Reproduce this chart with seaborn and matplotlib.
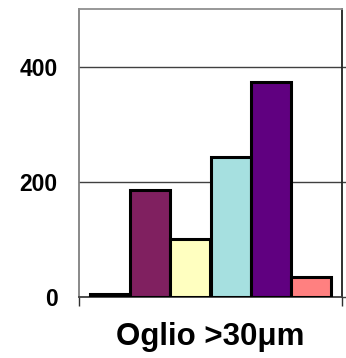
import matplotlib
matplotlib.use("Agg")
import matplotlib.pyplot as plt
import seaborn as sns
import pandas as pd

categories = ["Oglio >30μm"]
series = ["S1", "S2", "S3", "S4", "S5", "S6"]
values = [6, 186, 100, 243, 374, 34]
colors = ["#8080F0", "#802060", "#FFFFC0", "#A6E0E0", "#600080", "#FF8080"]
yticks = [0, 200, 400]

df = pd.DataFrame({"cat": categories * len(series), "series": series, "value": values})

sns.set_theme(style="white")
plt.rcParams["font.family"] = ["Liberation Sans", "DejaVu Sans"]
plt.rcParams["text.color"] = "black"
plt.rcParams["ytick.labelcolor"] = "black"

W, H = 346, 358
fig = plt.figure(figsize=(W / 100, H / 100), dpi=100)
ax = fig.add_axes([79 / W, 1 - 297 / H, (342 - 79) / W, (297 - 9) / H])

sns.barplot(data=df, x="cat", y="value", hue="series", hue_order=series,
            palette=colors, saturation=1, width=0.92, edgecolor="black",
            linewidth=2.2, ax=ax, legend=False, zorder=3)

ax.set_ylim(0, 500)
ax.set_xlim(-0.5, 0.5)
ax.set_yticks(yticks)
ax.set_yticklabels([str(v) for v in yticks], fontsize=16.5, fontweight="bold", color="black")
ax.set_xticks([-0.5, 0.5])
ax.set_xticklabels([])
ax.set_xlabel("")
ax.set_ylabel("")
ax.yaxis.grid(True, color="#404040", lw=1)
ax.xaxis.grid(False)
ax.set_axisbelow(True)

ax.tick_params(axis="y", which="both", left=False, right=True, length=3,
               color="#404040", width=1, pad=12.5, direction="out")
ax.tick_params(axis="y", labelleft=True, labelright=False)
ax.tick_params(axis="x", bottom=True, length=6.5, color="#303030", width=1, direction="out")

for side, c in [("left", "#808080"), ("top", "#909090"), ("right", "#202020"), ("bottom", "#404040")]:
    ax.spines[side].set_visible(True)
    ax.spines[side].set_color(c)
    ax.spines[side].set_linewidth(1.3)

fig.text(210 / W, 1 - 345 / H, "Oglio >30μm", ha="center", va="baseline",
         fontsize=22.5, fontweight="bold", color="black")

fig.savefig("out.png", dpi=100, facecolor="white")
